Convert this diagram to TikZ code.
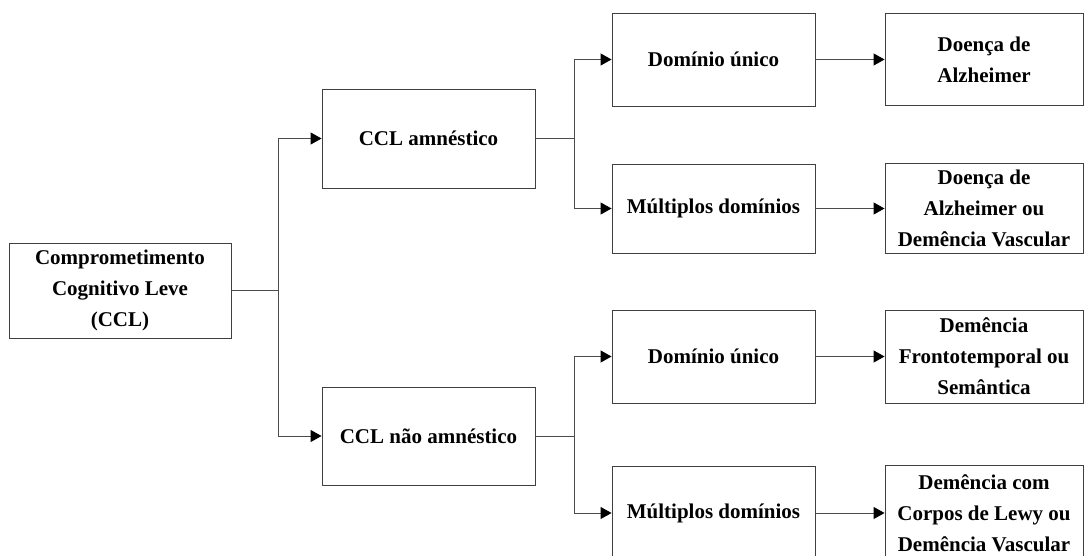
\documentclass[tikz,border=0pt]{standalone}
\usepackage{fontspec}
\setmainfont{Liberation Serif}
\usetikzlibrary{arrows.meta}

\begin{document}
\begin{tikzpicture}[x=1pt, y=-1pt,
    caixa/.style={draw=black!75, line width=0.9pt, align=center, inner sep=0pt,
        font=\fontsize{21}{31}\selectfont\bfseries},
    liga/.style={draw=black!70, line width=0.9pt},
    seta/.style={liga, -{Triangle[length=11pt, width=12pt, color=black]}}]
    \useasboundingbox (0,0) rectangle (1085,556);
    \node(CCL)[caixa, minimum width=222pt, minimum height=95pt] at (120,290.5) {Comprometimento\\Cognitivo Leve\\(CCL)};
    \node(amn)[caixa, minimum width=213pt, minimum height=99pt] at (428.5,138.5) {CCL amnéstico};
    \node(nao)[caixa, minimum width=213pt, minimum height=98pt] at (428.5,436) {CCL não amnéstico};
    \node(d1)[caixa, minimum width=203pt, minimum height=93pt] at (713.5,59.5) {Domínio único};
    \node(m1)[caixa, minimum width=203pt, minimum height=89pt] at (713.5,208.5) {Múltiplos domínios};
    \node(d2)[caixa, minimum width=203pt, minimum height=93pt] at (713.5,356.5) {Domínio único};
    \node(m2)[caixa, minimum width=203pt, minimum height=93pt] at (713.5,513) {Múltiplos domínios};
    \node(r1)[caixa, minimum width=198pt, minimum height=92pt] at (984,59.5) {Doença de\\Alzheimer};
    \node(r2)[caixa, minimum width=198pt, minimum height=90pt] at (984,208.5) {Doença de\\Alzheimer ou\\Demência Vascular};
    \node(r3)[caixa, minimum width=198pt, minimum height=93pt] at (984,356.5) {Demência\\Frontotemporal ou\\Semântica};
    \node(r4)[caixa, minimum width=198pt, minimum height=96pt] at (984,513) {Demência com\\Corpos de Lewy ou\\Demência Vascular};
    % ramificacoes
    \coordinate(b0) at (278,290.5);
    \coordinate(b1) at (574,138.5);
    \coordinate(b2) at (574,436);
    \draw[liga] (CCL) -- (b0);
    \draw[seta] (b0) |- (amn);
    \draw[seta] (b0) |- (nao);
    \draw[liga] (amn) -- (b1);
    \draw[seta] (b1) |- (d1);
    \draw[seta] (b1) |- (m1);
    \draw[liga] (nao) -- (b2);
    \draw[seta] (b2) |- (d2);
    \draw[seta] (b2) |- (m2);
    \draw[seta] (d1) -- (r1);
    \draw[seta] (m1) -- (r2);
    \draw[seta] (d2) -- (r3);
    \draw[seta] (m2) -- (r4);
\end{tikzpicture}
\end{document}
